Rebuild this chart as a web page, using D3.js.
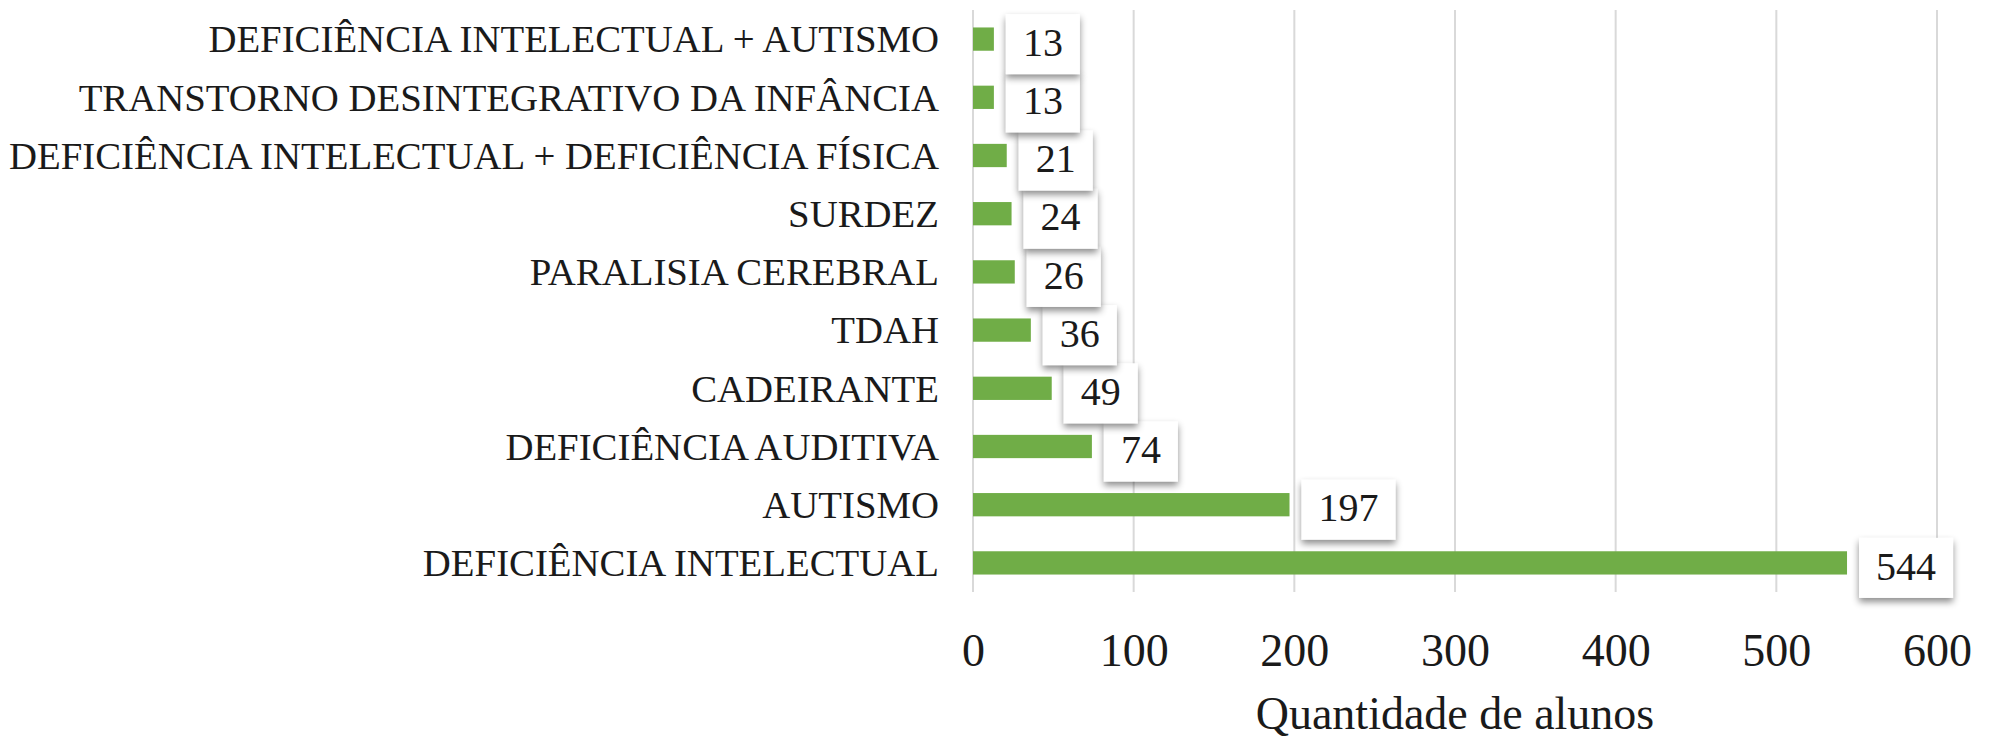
<!DOCTYPE html>
<html>
<head>
<meta charset="utf-8">
<script src="https://cdn.jsdelivr.net/npm/d3@7"></script>
<style>
  body { margin: 0; background: #fff; }
  svg text { font-family: "Liberation Serif", "Times New Roman", serif; fill: #1a1a1a; }
</style>
</head>
<body>
<svg id="chart"></svg>
<script>
// categories from top to bottom, as in the picture
const categories = [
  'DEFICIÊNCIA INTELECTUAL + AUTISMO',
  'TRANSTORNO DESINTEGRATIVO DA INFÂNCIA',
  'DEFICIÊNCIA INTELECTUAL + DEFICIÊNCIA FÍSICA',
  'SURDEZ',
  'PARALISIA CEREBRAL',
  'TDAH',
  'CADEIRANTE',
  'DEFICIÊNCIA AUDITIVA',
  'AUTISMO',
  'DEFICIÊNCIA INTELECTUAL'
];
const alunos = [13, 13, 21, 24, 26, 36, 49, 74, 197, 544];
const xTicks = [0, 100, 200, 300, 400, 500, 600];
const xTitle = 'Quantidade de alunos';

class BarChart {

  constructor(_config, _data) {
    this.config = {
      parentElement: _config.parentElement,
      containerWidth: _config.containerWidth || 1994,
      containerHeight: _config.containerHeight || 740,
      plot: {left: 973, right: 1937, top: 10, bottom: 592},
      barColor: '#70ad47',
      gridColor: '#d9d9d9'
    };
    this.data = _data;
    this.initVis();
  }

  initVis() {
    let vis = this;
    const p = vis.config.plot;

    vis.svg = d3.select(vis.config.parentElement)
      .attr('width', vis.config.containerWidth)
      .attr('height', vis.config.containerHeight);

    // shadow used by the value callouts
    const filter = vis.svg.append('defs').append('filter')
      .attr('id', 'shadow')
      .attr('x', '-30%').attr('y', '-30%')
      .attr('width', '160%').attr('height', '170%');
    filter.append('feDropShadow')
      .attr('dx', 0).attr('dy', 4)
      .attr('stdDeviation', 3.5)
      .attr('flood-color', '#000')
      .attr('flood-opacity', 0.45);

    vis.xScale = d3.scaleLinear()
      .domain([0, 600])
      .range([p.left, p.right]);

    vis.yScale = d3.scaleBand()
      .domain(categories)
      .range([p.top, p.bottom])
      .paddingInner(0.6)
      .paddingOuter(0.3);

    vis.gridGroup = vis.svg.append('g').attr('class', 'grid');
    vis.barGroup = vis.svg.append('g').attr('class', 'bars');
    vis.labelGroup = vis.svg.append('g').attr('class', 'value-labels');

    // x axis: only tick labels, no line
    vis.xAxis = d3.axisBottom(vis.xScale)
      .tickValues(xTicks)
      .tickSize(0)
      .tickPadding(0);

    vis.xGroup = vis.svg.append('g')
      .attr('class', 'x-axis')
      .attr('transform', `translate(0, 666)`);

    vis.yAxis = d3.axisLeft(vis.yScale)
      .tickSize(0)
      .tickPadding(0);

    vis.yGroup = vis.svg.append('g')
      .attr('class', 'y-axis')
      .attr('transform', `translate(939, 0)`);

    vis.svg.append('text')
      .attr('class', 'x-title')
      .attr('x', (p.left + p.right) / 2)
      .attr('y', 729)
      .attr('text-anchor', 'middle')
      .style('font-size', '46px')
      .text(xTitle);
  }

  renderVis() {
    let vis = this;
    const p = vis.config.plot;

    // vertical gridlines
    vis.gridGroup.selectAll('line')
      .data(xTicks)
      .join('line')
      .attr('x1', d => vis.xScale(d))
      .attr('x2', d => vis.xScale(d))
      .attr('y1', p.top)
      .attr('y2', p.bottom)
      .attr('stroke', vis.config.gridColor)
      .attr('stroke-width', 2);

    vis.barGroup.selectAll('rect')
      .data(vis.data)
      .join('rect')
      .attr('x', vis.xScale(0))
      .attr('y', d => vis.yScale(d.category))
      .attr('width', d => vis.xScale(d.value) - vis.xScale(0))
      .attr('height', vis.yScale.bandwidth())
      .attr('fill', vis.config.barColor);

    // axes
    vis.xGroup.call(vis.xAxis);
    vis.xGroup.select('.domain').remove();
    vis.xGroup.selectAll('text')
      .attr('dy', null)
      .attr('y', 0)
      .style('font-size', '46px')
      .style('font-family', '"Liberation Serif", serif')
      .attr('fill', '#1a1a1a');

    vis.yGroup.call(vis.yAxis);
    vis.yGroup.select('.domain').remove();
    vis.yGroup.selectAll('text')
      .attr('dy', '0.34em')
      .style('font-size', '38.8px')
      .style('font-family', '"Liberation Serif", serif')
      .attr('fill', '#1a1a1a');

    // value callouts: white box with shadow right of each bar
    // drawn bottom-up so upper boxes sit on top of lower ones
    const pad = 17, boxH = 60;
    const labels = vis.labelGroup.selectAll('g')
      .data(vis.data.slice().reverse())
      .join('g');

    labels.each(function(d) {
      const g = d3.select(this);
      const cy = vis.yScale(d.category) + vis.yScale.bandwidth() / 2;
      const txt = g.append('text')
        .attr('text-anchor', 'middle')
        .attr('dy', '0.34em')
        .style('font-size', '40px')
        .text(d.value);
      const w = txt.node().getComputedTextLength() + pad * 2;
      const x0 = vis.xScale(d.value) + 12;
      g.insert('rect', 'text')
        .attr('x', x0)
        .attr('y', cy + 5 - boxH / 2)
        .attr('width', w)
        .attr('height', boxH)
        .attr('fill', '#fff')
        .attr('filter', 'url(#shadow)');
      txt.attr('x', x0 + w / 2).attr('y', cy + 3);
    });
  }
}

const data = categories.map((c, i) => ({category: c, value: alunos[i]}));
const chart = new BarChart({parentElement: '#chart'}, data);
chart.renderVis();
</script>
</body>
</html>
